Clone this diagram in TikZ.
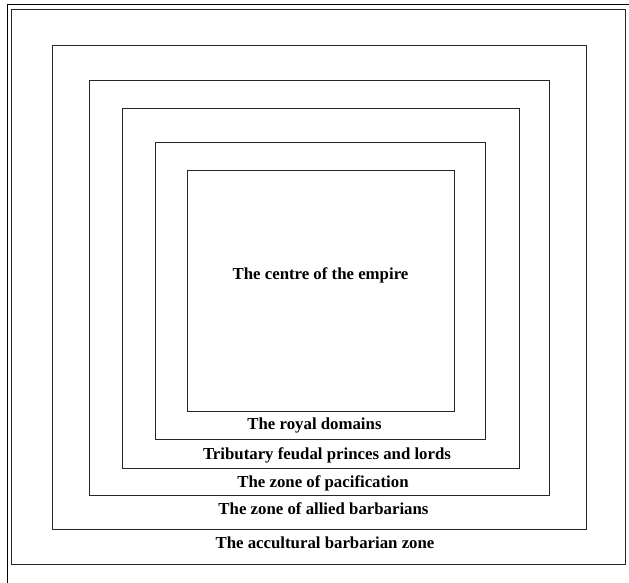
\documentclass[tikz,border=0pt]{standalone}
\usepackage{fontspec}
\setmainfont{Liberation Serif}
\begin{document}
\begin{tikzpicture}[x=1pt,y=-1pt,
  zone/.style={draw=black!85,line width=1pt},
  lbl/.style={font=\fontsize{16.8}{20}\selectfont\bfseries,inner sep=0pt,anchor=center}]
\useasboundingbox (0,0) rectangle (629,583);
\fill[white] (0,0) rectangle (629,583);
% partial outer frame
\draw[line width=1pt] (7,583) -- (7,5) -- (629,5);
% nested zones
\draw[zone] (11,10) rectangle (625.5,564.5);
\draw[zone] (52,46) rectangle (586,529);
\draw[zone] (89,81) rectangle (549,495.5);
\draw[zone] (122,109) rectangle (519,468);
\draw[zone] (155,143) rectangle (485,439);
\draw[zone] (187,170) rectangle (454,411);
% labels
\node[lbl] (centre) at (320.5,275) {The centre of the empire};
\node[lbl] (royal) at (314.5,425) {The royal domains};
\node[lbl] (trib) at (327,455) {Tributary feudal princes and lords};
\node[lbl] (pacif) at (323,483) {The zone of pacification};
\node[lbl] (allied) at (323.5,509) {The zone of allied barbarians};
\node[lbl] (accult) at (325,543) {The accultural barbarian zone};
\end{tikzpicture}
\end{document}
